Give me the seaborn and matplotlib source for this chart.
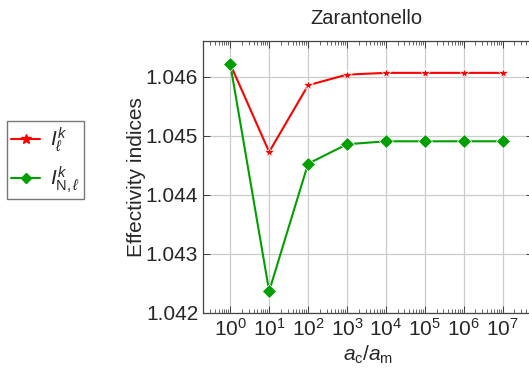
import numpy as np
import pandas as pd
import matplotlib
matplotlib.use("Agg")
import matplotlib.pyplot as plt
import matplotlib.ticker as mticker
import seaborn as sns
from matplotlib.lines import Line2D

ratio = [1e0, 1e1, 1e2, 1e3, 1e4, 1e5, 1e6, 1e7]
I_l = [1.04622, 1.04473, 1.04586, 1.04604, 1.04607, 1.04607, 1.04607, 1.04607]
I_Nl = [1.04622, 1.04237, 1.04453, 1.04486, 1.04491, 1.04491, 1.04491, 1.04491]
labels = [r"$I_{\ell}^{k}$", r"$I_{\mathrm{N},\ell}^{k}$"]
colors = ["#ff0000", "#00a000"]
markers = ["*", "D"]

df = pd.DataFrame({
    "x": ratio * 2,
    "y": I_l + I_Nl,
    "series": [labels[0]] * len(ratio) + [labels[1]] * len(ratio),
})

sns.set_style("ticks")
plt.rcParams["font.family"] = ["Liberation Sans", "DejaVu Sans"]
plt.rcParams["mathtext.fontset"] = "custom"
plt.rcParams["mathtext.rm"] = "Liberation Sans"
plt.rcParams["mathtext.it"] = "Liberation Sans:italic"
plt.rcParams["mathtext.fallback"] = "stixsans"

fig = plt.figure(figsize=(5.29, 3.68), dpi=100)
ax = fig.add_axes([203 / 529, 55 / 368, 330 / 529, 272 / 368])

sns.lineplot(data=df, x="x", y="y", hue="series", style="series",
             palette=colors, markers=markers, dashes=False, ax=ax,
             linewidth=1.5, markersize=7, markeredgewidth=0.5, legend=False)

ax.set_xscale("log")
ax.set_xlim(10 ** -0.7, 10 ** 7.78)
ax.set_ylim(1.042, 1.04661)
ax.set_xticks(ratio)
ax.xaxis.set_minor_locator(mticker.LogLocator(base=10, subs=np.arange(2, 10), numticks=20))
ax.xaxis.set_minor_formatter(mticker.NullFormatter())
ax.set_yticks([1.042, 1.043, 1.044, 1.045, 1.046])
ax.yaxis.set_major_formatter(mticker.FormatStrFormatter("%.3f"))
ax.grid(True, which="major", color="#cccccc", linewidth=0.9)
ax.tick_params(which="both", direction="in", top=True, right=True, labelsize=15)
ax.tick_params(which="major", length=5, width=0.6)
ax.tick_params(which="minor", length=3, width=0.5)
for s in ax.spines.values():
    s.set_color("#444444")
    s.set_linewidth(0.9)

ax.set_xlabel(r"$a_{\mathrm{c}}/a_{\mathrm{m}}$", fontsize=15, labelpad=3)
ax.set_ylabel("Effectivity indices", fontsize=15, labelpad=0)
ax.set_title("Zarantonello", fontsize=14.5, pad=12, x=(366 - 203) / 330)

handles = [Line2D([], [], color=colors[0], marker=markers[0], linewidth=1.5, markersize=7),
           Line2D([], [], color=colors[1], marker=markers[1], linewidth=1.5, markersize=5)]
leg = fig.legend(handles, labels, loc="upper left",
                 bbox_to_anchor=(7 / 529, 1 - 121 / 368), fontsize=15,
                 frameon=True, fancybox=False, edgecolor="#555555",
                 handlelength=1.4, handletextpad=0.45, labelspacing=0.5,
                 borderpad=0.2, borderaxespad=0)
leg.get_frame().set_linewidth(1.0)

fig.savefig("out.png", dpi=100)
